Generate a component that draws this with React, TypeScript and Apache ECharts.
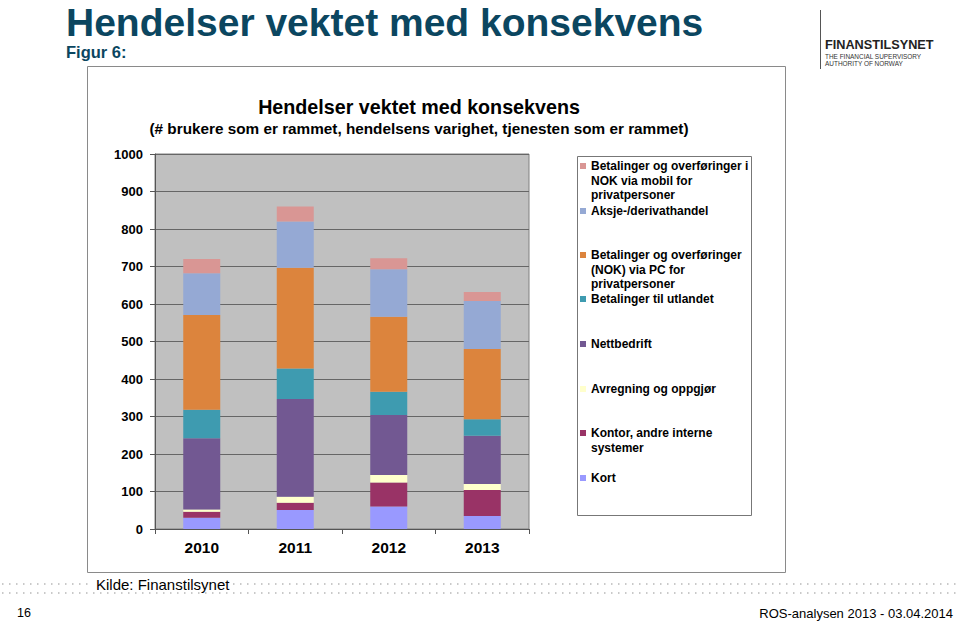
import React, { useEffect, useRef } from 'react';
import * as echarts from 'echarts';

// ---------- data ----------
const categories = ['2010', '2011', '2012', '2013'];

// stack order: bottom to top
const seriesNames = [
  'Kort',
  'Kontor, andre interne systemer',
  'Avregning og oppgjør',
  'Nettbedrift',
  'Betalinger til utlandet',
  'Betalinger og overføringer (NOK) via PC for privatpersoner',
  'Aksje-/derivathandel',
  'Betalinger og overføringer i NOK via mobil for privatpersoner',
];

const kort = [30, 51, 60, 35];
const kontor = [16, 19, 64, 69];
const avregning = [6, 16, 20, 16];
const nettbedrift = [190, 261, 160, 129];
const utlandet = [76, 81, 62, 44];
const pcPrivat = [253, 269, 200, 187];
const aksje = [111, 123, 127, 128];
const mobilPrivat = [38, 40, 29, 24];

const seriesValues = [kort, kontor, avregning, nettbedrift, utlandet, pcPrivat, aksje, mobilPrivat];

const seriesColors = ['#9999ff', '#993366', '#ffffcc', '#725892', '#3e9bb0', '#dc843d', '#95a9d4', '#d99694'];

// legend display labels (wrapped), same order as seriesNames
const legendLabels = [
  'Kort',
  'Kontor, andre interne\nsystemer',
  'Avregning og oppgjør',
  'Nettbedrift',
  'Betalinger til utlandet',
  'Betalinger og overføringer\n(NOK) via PC for\nprivatpersoner',
  'Aksje-/derivathandel',
  'Betalinger og overføringer i\nNOK via mobil for\nprivatpersoner',
];

const yMin = 0;
const yMax = 1000;
const yInterval = 100;

const pageTitle = 'Hendelser vektet med konsekvens';
const figureLabel = 'Figur 6:';
const chartTitle = 'Hendelser vektet med konsekvens';
const chartSubtitle = '(# brukere som er rammet, hendelsens varighet, tjenesten som er rammet)';
const sourceText = 'Kilde: Finanstilsynet';
const pageNumber = '16';
const footerRight = 'ROS-analysen 2013 - 03.04.2014';

// ---------- layout ----------
const SANS = '"Liberation Sans", Arial, Helvetica, sans-serif';
const TITLE_COLOR = '#0b4660';

// legend first-line centre (y) for each series (seriesNames order)
const legendCenters = [478, 433, 389, 344, 299, 255, 211, 166];
const LEG_LH = 14.5;

export default function App() {
  const ref = useRef<HTMLDivElement>(null);

  useEffect(() => {
    document.body.style.margin = '0';
    const chart = echarts.init(ref.current as HTMLDivElement, null, { renderer: 'svg' });

    const series = seriesNames.map((name, i) => ({
      name,
      type: 'bar',
      stack: 'total',
      barWidth: 37,
      data: seriesValues[i],
      itemStyle: { color: seriesColors[i] },
      emphasis: { disabled: true },
    }));

    const legends = seriesNames.map((name, i) => {
      const label = legendLabels[i];
      const n = label.split('\n').length;
      // leading blank lines keep the icon beside the first text line
      const padded = '\n'.repeat(n - 1) + label;
      return {
        show: true,
        data: [{ name, icon: 'rect' }],
        left: 580,
        top: legendCenters[i] - ((2 * n - 1) * LEG_LH) / 2,
        padding: 0,
        itemWidth: 6,
        itemHeight: 6,
        selectedMode: false,
        formatter: () => padded,
        textStyle: {
          fontFamily: SANS,
          fontWeight: 'bold',
          fontSize: 12,
          color: '#000',
          lineHeight: LEG_LH,
        },
      };
    });

    const dotRows = [584, 593].map((y) => ({
      type: 'line',
      z: -20,
      shape: { x1: 2, y1: y, x2: 960, y2: y },
      style: { stroke: '#b8b8b8', lineWidth: 1.5, lineDash: [1.5, 5.5] },
    }));

    const option = {
      animation: false,
      backgroundColor: '#ffffff',
      grid: {
        left: 155,
        top: 154,
        width: 374,
        height: 375,
        show: true,
        backgroundColor: '#c0c0c0',
        borderColor: '#808080',
        borderWidth: 1,
        containLabel: false,
      },
      xAxis: {
        type: 'category',
        data: categories,
        axisLine: { show: true, lineStyle: { color: '#555', width: 1 } },
        axisTick: { show: true, length: 5, lineStyle: { color: '#555' } },
        axisLabel: {
          fontFamily: SANS,
          fontWeight: 'bold',
          fontSize: 15.5,
          color: '#000',
          margin: 10,
        },
      },
      yAxis: {
        type: 'value',
        min: yMin,
        max: yMax,
        interval: yInterval,
        axisLine: { show: true, lineStyle: { color: '#555', width: 1 } },
        axisTick: { show: true, length: 5, lineStyle: { color: '#555' } },
        splitLine: { show: true, lineStyle: { color: '#666', width: 1.2 } },
        axisLabel: {
          fontFamily: SANS,
          fontWeight: 'bold',
          fontSize: 13,
          color: '#000',
          margin: 12,
          formatter: (v: number) => String(v),
        },
      },
      legend: legends,
      series,
      graphic: [
        ...dotRows,
        // chart frame
        {
          type: 'rect',
          z: -10,
          shape: { x: 87.5, y: 66.5, width: 698, height: 506 },
          style: { fill: '#ffffff', stroke: '#8a8a8a', lineWidth: 1 },
        },
        // legend box
        {
          type: 'rect',
          z: -5,
          shape: { x: 577.5, y: 156.5, width: 174, height: 359 },
          style: { fill: '#ffffff', stroke: '#777777', lineWidth: 1 },
        },
        // page title
        {
          type: 'text',
          x: 66,
          y: 22,
          style: {
            text: pageTitle,
            font: `bold 39px ${SANS}`,
            lineHeight: 36,
            fill: TITLE_COLOR,
            verticalAlign: 'middle',
            align: 'left',
          },
        },
        {
          type: 'text',
          x: 66,
          y: 52,
          style: {
            text: figureLabel,
            font: `bold 16.5px ${SANS}`,
            fill: TITLE_COLOR,
            verticalAlign: 'middle',
            align: 'left',
          },
        },
        // chart title & subtitle
        {
          type: 'text',
          x: 419,
          y: 107,
          style: {
            text: chartTitle,
            font: `bold 19.7px ${SANS}`,
            fill: '#000',
            verticalAlign: 'middle',
            align: 'center',
          },
        },
        {
          type: 'text',
          x: 419,
          y: 128,
          style: {
            text: chartSubtitle,
            font: `bold 15.3px ${SANS}`,
            fill: '#000',
            verticalAlign: 'middle',
            align: 'center',
          },
        },
        // logo
        {
          type: 'line',
          shape: { x1: 820.5, y1: 10, x2: 820.5, y2: 69 },
          style: { stroke: '#555', lineWidth: 1 },
        },
        {
          type: 'text',
          x: 825,
          y: 45,
          style: {
            text: 'FINANSTILSYNET',
            font: `bold 12.7px ${SANS}`,
            fill: '#222',
            verticalAlign: 'middle',
            align: 'left',
          },
        },
        {
          type: 'text',
          x: 825,
          y: 56,
          scaleX: 0.86,
          style: {
            text: 'THE FINANCIAL SUPERVISORY',
            font: `7.5px ${SANS}`,
            fill: '#333',
            verticalAlign: 'middle',
            align: 'left',
          },
        },
        {
          type: 'text',
          x: 825,
          y: 63.5,
          scaleX: 0.86,
          style: {
            text: 'AUTHORITY OF NORWAY',
            font: `7.5px ${SANS}`,
            fill: '#333',
            verticalAlign: 'middle',
            align: 'left',
          },
        },
        // footer
        {
          type: 'text',
          x: 93,
          y: 584,
          style: {
            text: sourceText,
            font: `15px ${SANS}`,
            fill: '#000',
            verticalAlign: 'middle',
            align: 'left',
            backgroundColor: '#ffffff',
            padding: [0, 3, 0, 3],
          },
        },
        {
          type: 'text',
          x: 17,
          y: 613,
          style: {
            text: pageNumber,
            font: `12.5px ${SANS}`,
            fill: '#000',
            verticalAlign: 'middle',
            align: 'left',
          },
        },
        {
          type: 'text',
          x: 953,
          y: 613,
          style: {
            text: footerRight,
            font: `13px ${SANS}`,
            fill: '#000',
            verticalAlign: 'middle',
            align: 'right',
          },
        },
      ],
    };

    chart.setOption(option as any);
    return () => chart.dispose();
  }, []);

  return <div ref={ref} style={{ width: 960, height: 621, background: '#ffffff' }} />;
}
